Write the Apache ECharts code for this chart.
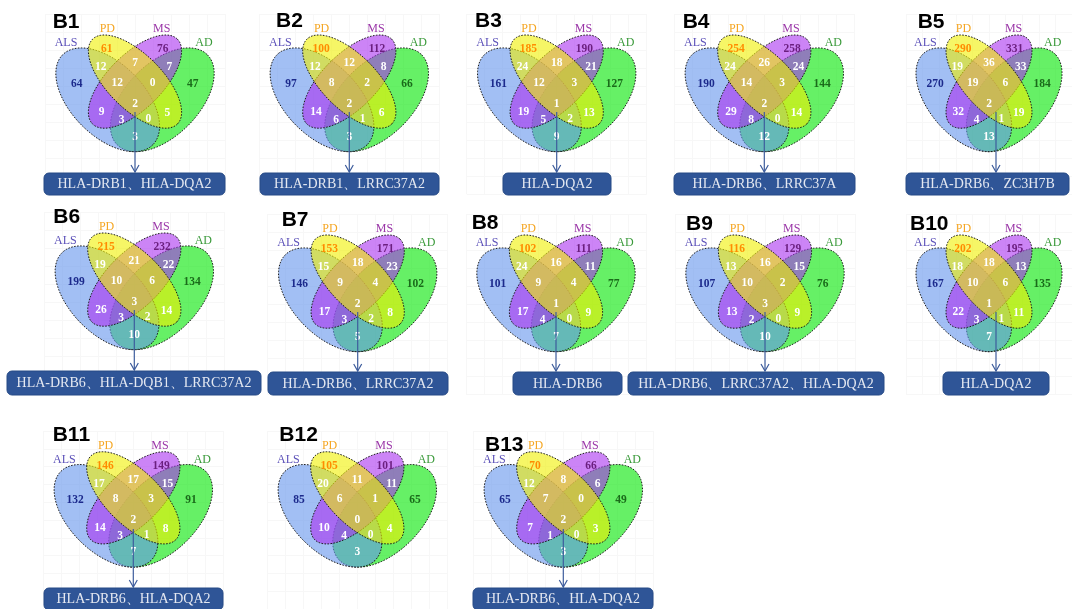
<!DOCTYPE html>
<html><head><meta charset="utf-8">
<script src="https://cdn.jsdelivr.net/npm/echarts@6/dist/echarts.min.js"></script>
<style>html,body{margin:0;padding:0;background:#fff}#c{width:1072px;height:609px}</style>
</head><body><div id="c"></div>
<script>
// ---------------- DATA ----------------
const SETS = ['ALS', 'PD', 'MS', 'AD'];
// region order
const REGIONS = ['ALS', 'PD', 'MS', 'AD', 'ALS∩PD', 'PD∩MS', 'MS∩AD', 'ALS∩PD∩MS', 'PD∩MS∩AD',
  'ALS∩PD∩MS∩AD', 'ALS∩MS', 'PD∩AD', 'ALS∩MS∩AD', 'ALS∩PD∩AD', 'ALS∩AD'];
const PANELS = ['B1','B2','B3','B4','B5','B6','B7','B8','B9','B10','B11','B12','B13'];
const B1  = [64, 61, 76, 47, 12, 7, 7, 12, 0, 2, 9, 5, 3, 0, 3];
const B2  = [97, 100, 112, 66, 12, 12, 8, 8, 2, 2, 14, 6, 6, 1, 3];
const B3  = [161, 185, 190, 127, 24, 18, 21, 12, 3, 1, 19, 13, 5, 2, 9];
const B4  = [190, 254, 258, 144, 24, 26, 24, 14, 3, 2, 29, 14, 8, 0, 12];
const B5  = [270, 290, 331, 184, 19, 36, 33, 19, 6, 2, 32, 19, 4, 1, 13];
const B6  = [199, 215, 232, 134, 19, 21, 22, 10, 6, 3, 26, 14, 3, 2, 10];
const B7  = [146, 153, 171, 102, 15, 18, 23, 9, 4, 2, 17, 8, 3, 2, 5];
const B8  = [101, 102, 111, 77, 24, 16, 11, 9, 4, 1, 17, 9, 4, 0, 7];
const B9  = [107, 116, 129, 76, 13, 16, 15, 10, 2, 3, 13, 9, 2, 0, 10];
const B10 = [167, 202, 195, 135, 18, 18, 13, 10, 6, 1, 22, 11, 3, 1, 7];
const B11 = [132, 146, 149, 91, 17, 17, 15, 8, 3, 2, 14, 8, 3, 1, 7];
const B12 = [85, 105, 101, 65, 20, 11, 11, 6, 1, 0, 10, 4, 4, 0, 3];
const B13 = [65, 70, 66, 49, 12, 8, 6, 7, 0, 2, 7, 3, 1, 0, 3];
const VALUES = [B1, B2, B3, B4, B5, B6, B7, B8, B9, B10, B11, B12, B13];
const GENES = [
  'HLA-DRB1、HLA-DQA2', 'HLA-DRB1、LRRC37A2', 'HLA-DQA2', 'HLA-DRB6、LRRC37A', 'HLA-DRB6、ZC3H7B',
  'HLA-DRB6、HLA-DQB1、LRRC37A2', 'HLA-DRB6、LRRC37A2', 'HLA-DRB6', 'HLA-DRB6、LRRC37A2、HLA-DQA2', 'HLA-DQA2',
  'HLA-DRB6、HLA-DQA2', null, 'HLA-DRB6、HLA-DQA2'
];

// ---------------- LAYOUT ----------------
const CENTERS = [[135,104],[349.3,104],[556.7,104],[764.3,104],[996,104],
  [134.3,302],[357.7,304],[556,304],[765,304],[996,304],
  [133.3,521],[357.3,521],[563.3,521]];
const TITLE_POS = [[52.7,22],[276,21],[475,21],[682.7,22],[917.7,22],
  [53.3,217.5],[281.7,220],[471.7,223],[686,224],[910,224],
  [52.7,435],[279.3,435.5],[485,445]];
const BOXES = [[44,173,181,22],[260,173,179,22],[503,173,108,22],[674,173,181,22],[906,173,163,22],
  [7,371,254,24],[268,372,180,23],[513,372,109,23],[628,372,256,23],[943,372,106,23],
  [44,588,179,22],null,[473,588,180,22]];
// region label offsets relative to the 4-way centre (local units, y down)
const REGION_POS = [[-58.3,-20],[-28.3,-54.7],[27.7,-54.7],[57.7,-20],[-34.3,-36.7],[0,-40.7],[34.3,-36.7],
  [-17.7,-20.7],[17.7,-20.7],[0,0],[-33.3,7.7],[32.3,8.7],[-13.3,16],[13.3,15.3],[0,32.7]];
const SET_LABEL_POS = [[-69,-60.7],[-27.7,-74.7],[26.7,-74.7],[69,-60.7]];
// ellipses, drawn in order AD, ALS, MS, PD  [cx, cy, a, b, angleDeg, setIndex]
const ELLIPSES = [[27.3,-4.2,63.7,36.4,-45,3],[-27.3,-4.2,63.7,36.4,45,0],[0,-22.4,60,27.3,-45,2],[0,-22.4,60,27.3,45,1]];
const SET_FILL = ['rgba(100,149,237,0.6)','rgba(240,240,0,0.6)','rgba(170,50,240,0.6)','rgba(0,230,0,0.6)'];
const SET_LABEL_COLOR = ['#5a4fb8','#f5a623','#9b37a8','#3a9a3a'];
const UNIQUE_COLOR = ['#1c2a8c','#ff8c00','#6b1f7f','#1a6b1a'];

const grids = [], xAxes = [], yAxes = [], series = [], graphics = [];
const faintSplit = {show: true, lineStyle: {color: '#f7f7f7', width: 1}};
PANELS.forEach((name, i) => {
  const [cx, cy] = CENTERS[i];
  grids.push({left: cx - 90, top: cy - 90, width: 180, height: 180, show: false});
  xAxes.push({type: 'value', gridIndex: i, min: -90, max: 90, interval: 18,
    axisLine: {show: false}, axisTick: {show: false}, axisLabel: {show: false}, splitLine: faintSplit});
  yAxes.push({type: 'value', gridIndex: i, min: -90, max: 90, interval: 18, inverse: true,
    axisLine: {show: false}, axisTick: {show: false}, axisLabel: {show: false}, splitLine: faintSplit});
  series.push({
    type: 'custom', xAxisIndex: i, yAxisIndex: i, clip: false, silent: true, z: 2,
    data: ELLIPSES, encode: {x: 0, y: 1},
    renderItem: (params, api) => {
      const ex = api.value(0), ey = api.value(1), a = api.value(2), b = api.value(3);
      const ang = api.value(4) * Math.PI / 180, s = api.value(5);
      const ux = Math.cos(ang), uy = Math.sin(ang), vx = -uy, vy = ux;
      const pts = [];
      for (let k = 0; k < 120; k++) {
        const t = 2 * Math.PI * k / 120;
        const px = ex + a * Math.cos(t) * ux + b * Math.sin(t) * vx;
        const py = ey + a * Math.cos(t) * uy + b * Math.sin(t) * vy;
        pts.push(api.coord([px, py]));
      }
      return {type: 'polygon', shape: {points: pts},
        style: {fill: SET_FILL[s], stroke: '#1a1a1a', lineWidth: 1, lineDash: [1.6, 1.4]}};
    }
  });
  series.push({
    type: 'custom', xAxisIndex: i, yAxisIndex: i, clip: false, silent: true, z: 3,
    data: VALUES[i].map((v, k) => [REGION_POS[k][0], REGION_POS[k][1], v, k]),
    encode: {x: 0, y: 1},
    renderItem: (params, api) => {
      const p = api.coord([api.value(0), api.value(1)]);
      const k = api.value(3);
      return {type: 'text', x: p[0], y: p[1],
        style: {text: String(api.value(2)), fill: k < 4 ? UNIQUE_COLOR[k] : '#ffffff',
          fontFamily: '"Liberation Serif", serif', fontWeight: 'bold', fontSize: 11.5,
          align: 'center', verticalAlign: 'middle'}};
    }
  });
  series.push({
    type: 'custom', xAxisIndex: i, yAxisIndex: i, clip: false, silent: true, z: 3,
    data: SETS.map((s, k) => [SET_LABEL_POS[k][0], SET_LABEL_POS[k][1], k]),
    encode: {x: 0, y: 1},
    renderItem: (params, api) => {
      const p = api.coord([api.value(0), api.value(1)]);
      const k = api.value(2);
      return {type: 'text', x: p[0], y: p[1],
        style: {text: SETS[k], fill: SET_LABEL_COLOR[k],
          fontFamily: '"Liberation Serif", serif', fontSize: 12,
          align: 'center', verticalAlign: 'middle'}};
    }
  });
  // title
  graphics.push({type: 'text', x: TITLE_POS[i][0], y: TITLE_POS[i][1], z: 10,
    style: {text: name, fill: '#000', font: 'bold 21px "Liberation Sans", Arial, sans-serif', verticalAlign: 'middle'}});
  // arrow + gene box
  const box = BOXES[i];
  if (box && GENES[i]) {
    const top = box[1];
    graphics.push({type: 'line', z: 10, shape: {x1: cx, y1: cy + 8, x2: cx, y2: top - 1},
      style: {stroke: '#3d5c9c', lineWidth: 1.2}});
    graphics.push({type: 'polyline', z: 10, shape: {points: [[cx - 4, top - 8], [cx, top - 1], [cx + 4, top - 8]]},
      style: {stroke: '#3d5c9c', lineWidth: 1.2, fill: null}});
    graphics.push({type: 'rect', z: 10, shape: {x: box[0], y: box[1], width: box[2], height: box[3], r: 5},
      style: {fill: '#2f5597', stroke: '#264a86', lineWidth: 1}});
    graphics.push({type: 'text', z: 11, x: box[0] + box[2] / 2, y: box[1] + box[3] / 2 + 0.5,
      style: {text: GENES[i], fill: '#e4e8f1', font: '14px "Liberation Serif", serif', align: 'center', verticalAlign: 'middle'}});
  }
});

const chart = echarts.init(document.getElementById('c'), null, {renderer: 'canvas'});
chart.setOption({
  animation: false,
  backgroundColor: '#ffffff',
  grid: grids, xAxis: xAxes, yAxis: yAxes,
  series: series,
  graphic: graphics
});
</script>
</body></html>
